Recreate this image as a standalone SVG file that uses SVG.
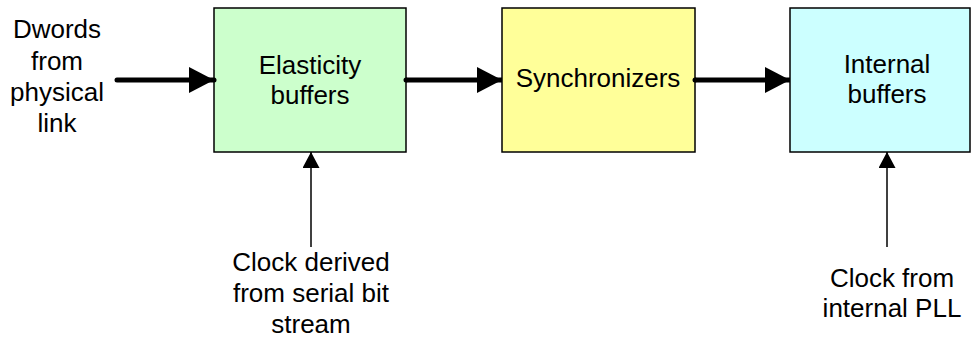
<svg xmlns="http://www.w3.org/2000/svg" width="973" height="339" viewBox="0 0 973 339">
<style>
text{font-family:"Liberation Sans",Arial,sans-serif;font-size:26px;fill:#000;text-anchor:middle}
.box{stroke:#000;stroke-width:1.5}
.thick{stroke:#000;stroke-width:5;fill:none}
.thin{stroke:#000;stroke-width:1.5;fill:none}
</style>
<defs>
<marker id="big" markerUnits="userSpaceOnUse" markerWidth="25" markerHeight="26" refX="25" refY="13" orient="auto">
<path d="M0,0 L25,13 L0,26 Z" fill="#000"/>
</marker>
<marker id="small" markerUnits="userSpaceOnUse" markerWidth="17" markerHeight="17" refX="16" refY="8.5" orient="auto">
<path d="M0,0 L16,8.5 L0,17 Z" fill="#000"/>
</marker>
</defs>
<rect width="973" height="339" fill="#fff"/>
<g id="elasticity">
<rect class="box" x="214" y="8" width="192" height="144" fill="#CCFFCC"/>
<text x="310" y="74">Elasticity</text>
<text x="310" y="104">buffers</text>
</g>
<g id="synchronizers">
<rect class="box" x="502" y="8" width="193" height="144" fill="#FFFF99"/>
<text x="598" y="87">Synchronizers</text>
</g>
<g id="internal">
<rect class="box" x="790" y="8" width="180" height="144" fill="#CCFFFF"/>
<text x="887" y="73">Internal</text>
<text x="887" y="103">buffers</text>
</g>
<g id="labels">
<text x="57" y="38">Dwords</text>
<text x="57" y="70">from</text>
<text x="57" y="101">physical</text>
<text x="57" y="132">link</text>
<text x="311" y="271">Clock derived</text>
<text x="311" y="302">from serial bit</text>
<text x="311" y="333">stream</text>
<text x="892" y="287">Clock from</text>
<text x="892" y="317">internal PLL</text>
</g>
<g id="connectors">
<line class="thick" x1="117" y1="80" x2="214" y2="80" stroke-linecap="round" marker-end="url(#big)"/>
<line class="thick" x1="406" y1="80" x2="502" y2="80" marker-end="url(#big)"/>
<circle cx="406" cy="80" r="2.5" fill="#000"/>
<line class="thick" x1="695" y1="80" x2="790" y2="80" marker-end="url(#big)"/>
<circle cx="695" cy="80" r="2.5" fill="#000"/>
<line class="thin" x1="311" y1="247" x2="311" y2="152" marker-end="url(#small)"/>
<line class="thin" x1="887" y1="247" x2="887" y2="152" marker-end="url(#small)"/>
</g>
</svg>
